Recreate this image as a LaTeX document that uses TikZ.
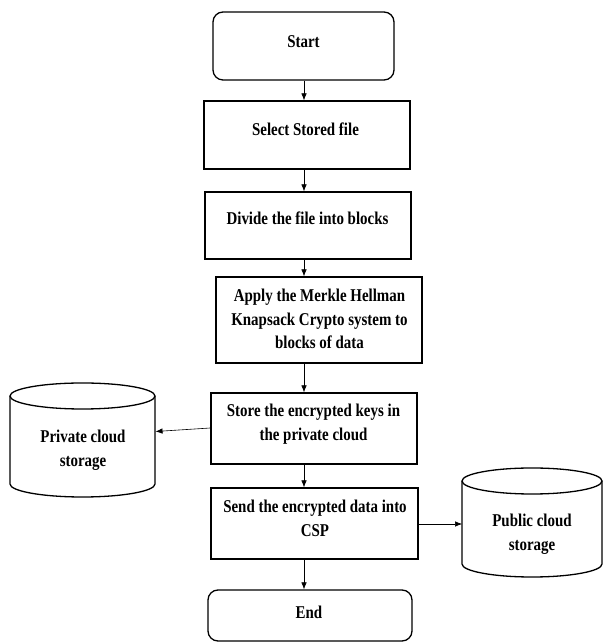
\documentclass[tikz,border=0pt]{standalone}
\usepackage{fontspec}
\setmainfont{Liberation Serif}
\newfontfamily\tallserif{Liberation Serif}[FakeStretch=0.83]
\usetikzlibrary{arrows.meta,calc}
\begin{document}
\begin{tikzpicture}[x=1pt,y=1pt,
  box/.style={draw, line width=1.3pt, inner sep=0pt},
  rbox/.style={box, rounded corners=10pt},
  txt/.style={font=\tallserif\fontsize{18}{23.5}\selectfont\bfseries, align=center, inner sep=0pt},
  cyl/.style={draw, line width=1.3pt},
  arr/.style={-{Latex[length=7pt,width=5.5pt]}, line width=0.6pt}]
\useasboundingbox (0,0) rectangle (603,644);
% boxes
\node[rbox, minimum width=181pt, minimum height=68pt] (start) at (303.5,598) {};
\node[txt] (tstart) at (303.5,602) {Start};
\node[box, minimum width=206pt, minimum height=68pt] (sel) at (307,509) {};
\node[txt] (tsel) at (305.5,515) {Select Stored file};
\node[box, minimum width=206pt, minimum height=67pt] (div) at (308,418.5) {};
\node[txt] (tdiv) at (307.5,426) {Divide the file into blocks};
\node[box, minimum width=206pt, minimum height=86pt] (app) at (319,324) {};
\node[txt] (tapp) at (319.5,325) {Apply the Merkle Hellman\\Knapsack Crypto system to\\blocks of data};
\node[box, minimum width=206pt, minimum height=71pt] (store) at (314,215.5) {};
\node[txt] (tstore) at (313.5,220) {Store the encrypted keys in\\the private cloud};
\node[box, minimum width=207pt, minimum height=71pt] (send) at (314.5,120.5) {};
\node[txt] (tsend) at (315,125.5) {Send the encrypted data into\\CSP};
\node[rbox, minimum width=204pt, minimum height=51pt] (end) at (310,28.5) {};
\node[txt] (tend) at (309,32) {End};
% private cloud cylinder
\draw[cyl] (10,248) -- (10,160) arc[start angle=180, end angle=360, x radius=72.5, y radius=13] -- (155,248);
\draw[cyl] (82.5,248) ellipse [x radius=72.5, y radius=13];
\node[txt] (tpriv) at (83,194) {Private cloud\\storage};
\coordinate (privR) at (155.5,212.5);
% public cloud cylinder
\draw[cyl] (462,163) -- (462,80) arc[start angle=180, end angle=360, x radius=70, y radius=13] -- (602,163);
\draw[cyl] (532,163) ellipse [x radius=70, y radius=13];
\node[txt] (tpub) at (532,110) {Public cloud\\storage};
\coordinate (pubL) at (462,120);
% arrows
\coordinate (ax) at (304,0);
\draw[arr] (start.south -| ax) -- (sel.north -| ax);
\draw[arr] (sel.south -| ax) -- (div.north -| ax);
\draw[arr] (div.south -| ax) -- (app.north -| ax);
\draw[arr] (app.south -| ax) -- (store.north -| ax);
\draw[arr] (store.south -| ax) -- (send.north -| ax);
\draw[arr] (send.south -| ax) -- (end.north -| ax);
\draw[arr] (store.west |- 0,216) -- (privR);
\draw[arr] (send.east |- pubL) -- (pubL);
\end{tikzpicture}
\end{document}
